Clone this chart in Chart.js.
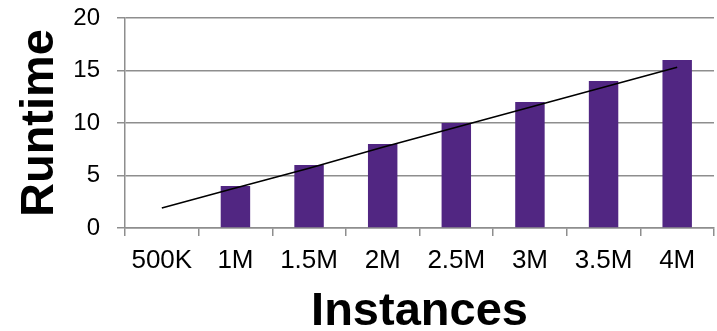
<!DOCTYPE html>
<html>
<head>
<meta charset="utf-8">
<script src="https://cdn.jsdelivr.net/npm/chart.js@4/dist/chart.umd.min.js"></script>
<style>
    html, body { margin: 0; padding: 0; background: #fff; }
    #wrap { width: 717px; height: 331px; }
</style>
</head>
<body>
<div id="wrap"><canvas id="chart" width="717" height="331"></canvas></div>
<script>
    // Values
    const categories = ['500K', '1M', '1.5M', '2M', '2.5M', '3M', '3.5M', '4M'];
    const runtime = [0, 4, 6, 8, 10, 12, 14, 16];
    const trend = [1.9, 3.8, 5.7, 7.7, 9.6, 11.5, 13.4, 15.3];
    const yTicks = [0, 5, 10, 15, 20];

    const gridGray = '#8e8e8e';
    const fontFamily = '"Liberation Sans", Arial, sans-serif';

    new Chart(document.getElementById('chart'), {
        data: {
            labels: categories,
            datasets: [
                {
                    type: 'line',
                    data: trend,
                    borderColor: '#000',
                    borderWidth: 1.6,
                    pointRadius: 0,
                    tension: 0,
                    order: 0
                },
                {
                    type: 'bar',
                    data: runtime,
                    backgroundColor: '#512682',
                    categoryPercentage: 1,
                    barPercentage: 0.4,
                    order: 1
                }
            ]
        },
        options: {
            responsive: false,
            animation: false,
            layout: { padding: { top: 18, right: 3, left: 0, bottom: 0 } },
            plugins: {
                legend: { display: false },
                tooltip: { enabled: false }
            },
            scales: {
                x: {
                    offset: true,
                    grid: {
                        offset: true,
                        drawOnChartArea: false,
                        drawTicks: true,
                        tickLength: 8,
                        color: gridGray,
                        lineWidth: 1.5
                    },
                    border: { color: gridGray, width: 1.5 },
                    ticks: {
                        color: '#000',
                        font: { family: fontFamily, size: 26 },
                        padding: 9,
                        maxRotation: 0,
                        autoSkip: false
                    },
                    title: {
                        display: true,
                        text: 'Instances',
                        color: '#000',
                        font: { family: fontFamily, size: 47, weight: 'bold', lineHeight: 0.8 },
                        padding: { top: 0, bottom: 0 }
                    },
                    afterFit: (scale) => {
                        scale.height = 103;
                        scale.paddingLeft = 0;
                        scale.paddingRight = 0;
                    }
                },
                y: {
                    min: 0,
                    max: 20,
                    afterBuildTicks: (scale) => {
                        scale.ticks = yTicks.map(v => ({ value: v }));
                    },
                    grid: {
                        color: gridGray,
                        lineWidth: 1.5,
                        tickLength: 8
                    },
                    border: { color: gridGray, width: 1.5 },
                    ticks: {
                        color: '#000',
                        font: { family: fontFamily, size: 24 },
                        padding: 17
                    },
                    title: {
                        display: true,
                        text: 'Runtime',
                        color: '#000',
                        font: { family: fontFamily, size: 47, weight: 'bold' },
                        padding: { top: 12, bottom: 0 }
                    },
                    afterFit: (scale) => {
                        scale.width = 125;
                        scale.paddingTop = 0;
                        scale.paddingBottom = 0;
                    }
                }
            }
        }
    });
</script>
</body>
</html>
